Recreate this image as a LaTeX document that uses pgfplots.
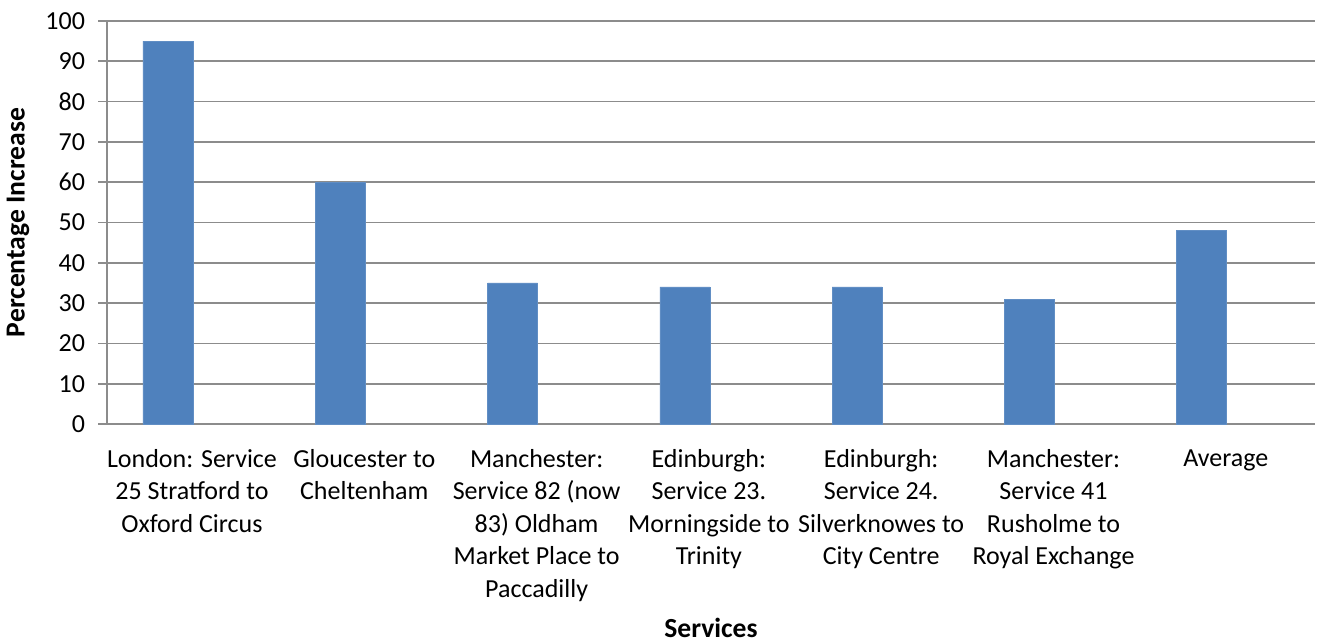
\documentclass[border=0pt]{standalone}
\usepackage{pgfplots}
\pgfplotsset{compat=1.18}
\usepackage{fontspec}
\setmainfont{Carlito}
\definecolor{barblue}{HTML}{4F81BD}
\definecolor{gridgray}{HTML}{8C8C8C}
\begin{document}
\begin{tikzpicture}
\useasboundingbox (-53.5pt,-109pt) rectangle (609pt,212pt);
\begin{axis}[
  scale only axis,
  width=604pt, height=201.5pt,
  at={(0,0)}, anchor=south west,
  xmin=-0.354, xmax=6.657,
  ymin=0, ymax=100,
  ytick={0,10,...,100},
  xtick={0,1,2,3,4,5,6},
  xticklabels={{London: Service\\25 Stratford to\\Oxford Circus},
    {Gloucester to\\Cheltenham},
    {Manchester:\\Service 82 (now\\83) Oldham\\Market Place to\\Paccadilly},
    {Edinburgh:\\Service 23.\\Morningside to\\Trinity},
    {Edinburgh:\\Service 24.\\Silverknowes to\\City Centre},
    {Manchester:\\Service 41\\Rusholme to\\Royal Exchange},
    {Average}},
  axis x line*=bottom, axis y line*=left,
  axis line style={gridgray, line width=0.8pt, -},
  x axis line style={shorten <=-4.5pt},
  ymajorgrids,
  major grid style={gridgray, line width=0.8pt},
  x tick style={draw=none},
  y tick style={gridgray, line width=0.8pt},
  tick align=outside,
  major tick length=4.5pt,
  /pgf/number format/assume math mode=true,
  yticklabel style={font=\fontsize{13}{15}\selectfont, xshift=-3pt},
  xticklabel style={font=\fontsize{13}{16.25}\selectfont, align=center, anchor=north, inner sep=0pt, yshift=-8pt, xshift=12pt},
  xlabel={Services},
  ylabel={Percentage Increase},
  xlabel style={font=\bfseries\fontsize{13.8}{15}\selectfont, at={(axis description cs:0.5,-0.507)}, anchor=center},
  ylabel style={font=\bfseries\fontsize{13.8}{15}\selectfont, at={(axis description cs:-0.0737,0.5)}, anchor=center, rotate=0},
  clip=false,
]
\addplot[ybar, bar width=25pt, fill=barblue, draw=barblue!90!white] coordinates {
  (0,95) (1,60) (2,35) (3,34) (4,34) (5,31) (6,48)
};
\end{axis}
\end{tikzpicture}
\end{document}
